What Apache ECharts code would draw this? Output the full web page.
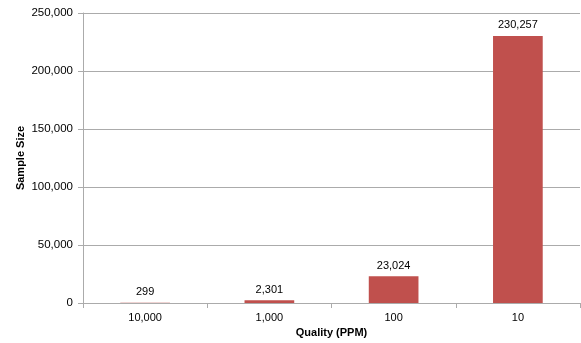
<!DOCTYPE html>
<html>
<head>
<meta charset="utf-8">
<script src="https://cdn.jsdelivr.net/npm/echarts@6/dist/echarts.min.js"></script>
<style>
  html, body { margin: 0; padding: 0; background: #fff; }
  #chart { width: 581px; height: 343px; }
</style>
</head>
<body>
<div id="chart"></div>
<script>
// Quality levels (PPM) and the sample size needed at each
const categories = ['10,000', '1,000', '100', '10'];
const sampleSizes = [299, 2301, 23024, 230257];

const font = '"Liberation Sans", Arial, sans-serif';
const lineColor = '#ababab';
const chart = echarts.init(document.getElementById('chart'));

chart.setOption({
  animation: false,
  grid: { left: 83, right: 1, top: 13, bottom: 39 },
  xAxis: {
    type: 'category',
    data: categories,
    name: 'Quality (PPM)',
    nameLocation: 'middle',
    nameGap: 24,
    nameMoveOverlap: false,
    nameTextStyle: { fontFamily: font, fontSize: 11, fontWeight: 'bold', color: '#000' },
    axisLine: { lineStyle: { color: lineColor } },
    axisTick: { show: true, length: 5, lineStyle: { color: lineColor } },
    axisLabel: { fontFamily: font, fontSize: 11, color: '#000', margin: 9 }
  },
  yAxis: {
    type: 'value',
    min: 0,
    max: 250000,
    interval: 50000,
    name: 'Sample Size',
    nameLocation: 'middle',
    nameGap: 57,
    nameMoveOverlap: false,
    nameTextStyle: { fontFamily: font, fontSize: 11, fontWeight: 'bold', color: '#000' },
    axisLine: { show: true, lineStyle: { color: lineColor } },
    axisTick: { show: true, length: 5, lineStyle: { color: lineColor } },
    axisLabel: {
      fontFamily: font, fontSize: 11.5, color: '#000', margin: 10,
      formatter: v => v.toLocaleString('en-US')
    },
    splitLine: { lineStyle: { color: lineColor } }
  },
  series: [{
    type: 'bar',
    data: sampleSizes,
    barWidth: '40%',
    itemStyle: { color: '#c0504d' },
    label: {
      show: true,
      position: 'top',
      distance: 5,
      fontFamily: font,
      fontSize: 11,
      color: '#000',
      formatter: p => p.value.toLocaleString('en-US')
    }
  }]
});
</script>
</body>
</html>
